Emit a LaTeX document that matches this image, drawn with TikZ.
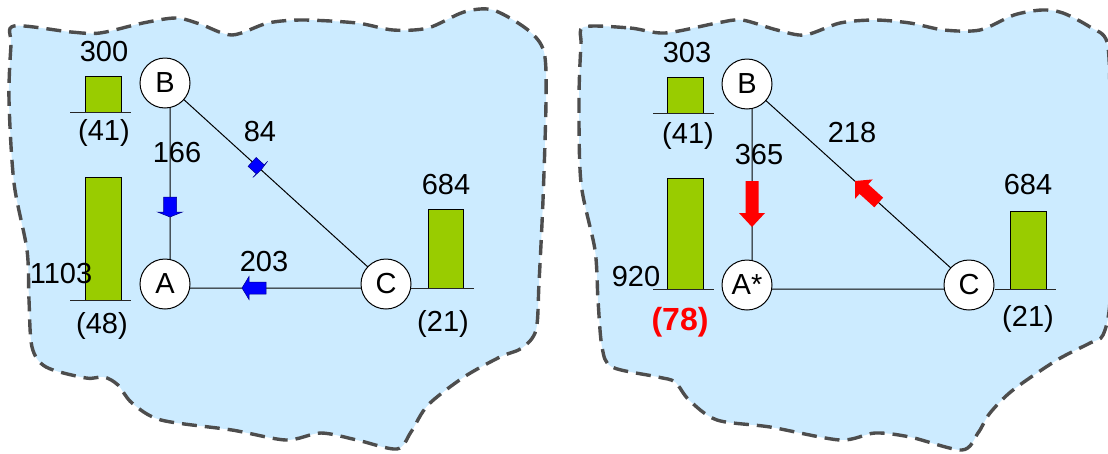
\documentclass[tikz,border=0pt]{standalone}
\usepackage{fontspec}
\setmainfont{Liberation Sans}
\usetikzlibrary{calc}
\definecolor{sea}{HTML}{CCEBFF}
\definecolor{rim}{HTML}{4D4D4D}
\definecolor{bargreen}{HTML}{99CC00}
\definecolor{flowblue}{HTML}{0000FF}
\definecolor{flowred}{HTML}{FF0000}
% block arrow: #1 style, #2 tip, #3 direction, #4 length, #5 head length, #6 head half-width, #7 body half-width
\newcommand\flowarrow[7]{%
  \path[#1, shift={#2}, rotate=#3] (0,0) -- (-#5,#6) -- (-#5,#7) -- (-#4,#7) -- (-#4,-#7) -- (-#5,-#7) -- (-#5,-#6) -- cycle;}
\tikzset{
  region/.style={fill=sea, draw=rim, line width=3.4pt, dash pattern=on 15pt off 8pt, line cap=butt},
  town/.style={circle, draw=black, fill=white, line width=1pt, minimum size=50pt, inner sep=0pt, font=\fontsize{29}{34}\selectfont},
  link/.style={draw=black, line width=1pt},
  stock/.style={fill=bargreen, draw=black, line width=1pt},
  ground/.style={draw=black!85, line width=1pt},
  lbl/.style={inner sep=0pt, font=\fontsize{29}{34}\selectfont},
  hot/.style={inner sep=0pt, text=flowred, font=\fontsize{32}{36}\selectfont\bfseries},
  bluearrow/.style={fill=flowblue, draw=blue!55!black, line width=0.5pt},
  redarrow/.style={fill=flowred}
}
\begin{document}
\begin{tikzpicture}[x=1pt, y=-1pt]
\useasboundingbox (0,0) rectangle (1108,453);

% ---------- left region ----------
\path[region] plot[smooth cycle, tension=0.5] coordinates {
  (14,26) (71,32) (100,33) (143,23) (176,18) (200,24) (232,35) (268,23) (303,20)
  (357,23) (393,30) (428,28) (464,12) (493,10) (528,30) (544,52) (546,100)
  (543,200) (539,283) (536,330) (522,348) (500,357) (464,377) (428,405) (411,432)
  (397,449) (357,440) (321,433) (286,440) (232,430) (161,420) (132,403) (118,385)
  (104,377) (86,378) (46,367) (32,347) (29,300) (27,250) (14,183) (9,100) (11,45)};

\coordinate (lB) at (170,87);
\coordinate (lA) at (170,288);
\coordinate (lC) at (391,288);
\draw[link] (lB) -- (lA) -- (lC) -- cycle;

% stocks
\draw[stock] (85,76) rectangle (121,112);
\draw[ground] (70,112) -- (131,112);
\draw[stock] (85,177) rectangle (121,300);
\draw[ground] (70,300) -- (131,300);
\draw[stock] (428,209) rectangle (463,288);
\draw[ground] (411,288) -- (474,288);

% flows
\flowarrow{bluearrow}{(170,217)}{-90}{20}{5}{12.5}{6.5}
\flowarrow{bluearrow}{(242,288)}{180}{24}{7}{11.5}{6}
\flowarrow{bluearrow}{(261,170)}{-42.3}{12}{1}{11}{6}

\node[town] (B) at (165,83) {B};
\node[town] (A) at (165,284) {A};
\node[town] (C) at (386,284) {C};

\node[lbl] (sB) at (104,52) {300};
\node[lbl] (dB) at (104,133) {(41)};
\node[lbl] (sA) at (61,274) {1103};
\node[lbl] (dA) at (102,326) {(48)};
\node[lbl] (sC) at (446,185) {684};
\node[lbl] (dC) at (443,324) {(21)};
\node[lbl] (fBA) at (177,153) {166};
\node[lbl] (fBC) at (260,132) {84};
\node[lbl] (fCA) at (264,262) {203};

% ---------- right region ----------
\path[region] plot[smooth cycle, tension=0.5] coordinates {
  (584,27) (630,28) (665,33) (717,23) (742,20) (777,30) (805,35) (840,23) (875,20)
  (910,23) (944,30) (980,30) (1014,15) (1042,10) (1063,13) (1090,27) (1107,42)
  (1110,100) (1110,200) (1110,300) (1103,335) (1090,343) (1057,360) (1013,390)
  (990,413) (978,433) (962,450) (910,437) (875,433) (840,440) (770,427) (717,420)
  (689,400) (675,382) (658,377) (612,367) (602,347) (598,300) (595,250) (581,183)
  (579,100) (581,45)};

\coordinate (rB) at (752,88);
\coordinate (rA) at (752,289);
\coordinate (rC) at (974,289);
\draw[link] (rB) -- (rA) -- (rC) -- cycle;

\draw[stock] (667,77) rectangle (703,113);
\draw[ground] (653,113) -- (714,113);
\draw[stock] (667,178) rectangle (703,289);
\draw[ground] (653,289) -- (714,289);
\draw[stock] (1010,211) rectangle (1046,289);
\draw[ground] (995,289) -- (1056,289);

\flowarrow{redarrow}{(752,227)}{-90}{46}{14}{13}{6.5}
\flowarrow{redarrow}{(855,181)}{137.8}{32}{12}{13}{6.5}

\node[town] (B2) at (747,84) {B};
\node[town] (A2) at (747,285) {A*};
\node[town] (C2) at (969,285) {C};

\node[lbl] (sB2) at (687,53) {303};
\node[lbl] (dB2) at (688,136) {(41)};
\node[lbl] (sA2) at (636,277) {920};
\node[hot] (dA2) at (680,322) {(78)};
\node[lbl] (sC2) at (1028,185) {684};
\node[lbl] (dC2) at (1028,319) {(21)};
\node[lbl] (fBA2) at (759,155) {365};
\node[lbl] (fBC2) at (852,133) {218};
\end{tikzpicture}
\end{document}
